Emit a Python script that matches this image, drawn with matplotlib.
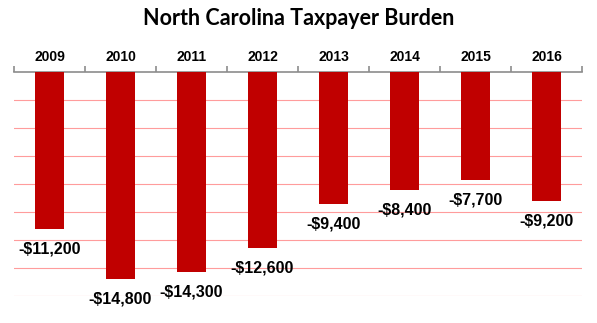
import matplotlib.pyplot as plt
import numpy as np

# Taxpayer burden per year (dollars)
years = ['2009', '2010', '2011', '2012', '2013', '2014', '2015', '2016']
burden = [-11200, -14800, -14300, -12600, -9400, -8400, -7700, -9200]

bar_color = '#C00000'
grid_color = '#FF9C9C'
axis_color = '#8C8C8C'

fig = plt.figure(figsize=(5.97, 3.23), dpi=100)
ax = fig.add_axes([0.0235, 0.0836, 0.9515, 0.6934])

x = np.arange(len(years))
ax.bar(x, burden, width=0.4, color=bar_color, zorder=3)

# value labels under each bar
for xi, val in zip(x, burden):
    ax.annotate('-${:,}'.format(abs(val)), xy=(xi, val), xytext=(0, -9),
                textcoords='offset points', ha='center', va='top',
                fontsize=11.5, fontweight='bold', family='Liberation Sans',
                color='black', zorder=4)

ax.set_xlim(-0.5, len(years) - 0.5)
ax.set_ylim(-16000, 0)

# horizontal grid lines every 2000
ax.set_yticks(np.arange(-16000, 0, 2000))
ax.yaxis.grid(True, color=grid_color, linewidth=0.8, zorder=0)
ax.tick_params(axis='y', left=False, labelleft=False)

# category axis along the top
for side in ['left', 'right', 'bottom']:
    ax.spines[side].set_visible(False)
ax.spines['top'].set_color(axis_color)
ax.spines['top'].set_linewidth(1.2)
ax.xaxis.tick_top()
ax.set_xticks(np.arange(-0.5, len(years), 1.0))
ax.set_xticklabels([])
ax.set_xticks(x, minor=True)
ax.set_xticklabels(years, minor=True, fontsize=10, fontweight='bold',
                   family=['Liberation Sans Narrow', 'Liberation Sans'])
ax.tick_params(axis='x', which='major', direction='out', length=4,
               width=1.2, color=axis_color, top=True, bottom=False)
ax.tick_params(axis='x', which='minor', length=0, pad=6, top=True, bottom=False)

fig.suptitle('North Carolina Taxpayer Burden', x=0.5, y=0.975,
             fontsize=15.5, fontweight='bold', family='Lato')

fig.savefig('out.png', dpi=100)
